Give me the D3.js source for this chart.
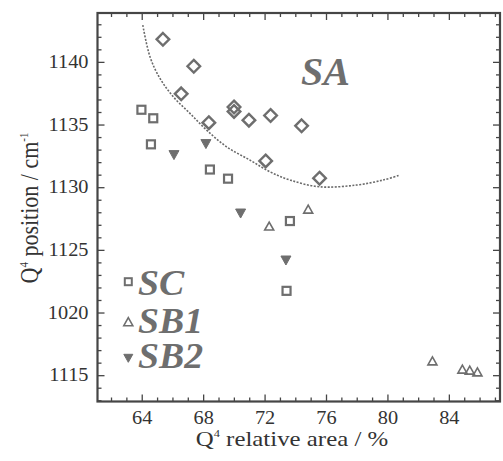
<!DOCTYPE html>
<html>
<head>
<meta charset="utf-8">
<script src="https://cdn.jsdelivr.net/npm/d3@7"></script>
<style>
  html, body { margin: 0; padding: 0; background: #fff; }
  svg text { font-family: "Liberation Serif", "Times New Roman", serif; }
  .sx { transform: scaleX(1.13); transform-box: fill-box; transform-origin: center; }
  .sxr { transform: scaleX(1.13); transform-box: fill-box; transform-origin: right center; }
  .sxl { transform: scaleX(1.08); transform-box: fill-box; transform-origin: left center; }
  .sy { transform: scaleY(1.13); transform-box: fill-box; transform-origin: center; }
</style>
</head>
<body>
<svg id="chart" width="503" height="461"></svg>
<script>
// ---- data ----
const xTicks = [64, 68, 72, 76, 80, 84];
const yTicks = [1115, 1120, 1125, 1130, 1135, 1140];
const yTickLabels = ["1115", "1020", "1125", "1130", "1135", "1140"];

const saX = [65.38, 67.39, 66.57, 68.37, 70.01, 70.01, 70.98, 72.39, 74.41, 72.07, 75.58];
const saY = [1141.8, 1139.65, 1137.45, 1135.15, 1136.4, 1136.05, 1135.35, 1135.72, 1134.9, 1132.1, 1130.72];

const scX = [63.98, 64.75, 64.6, 68.44, 69.62, 73.65, 73.43];
const scY = [1136.18, 1135.5, 1133.42, 1131.41, 1130.68, 1127.3, 1121.73];

const sb1X = [72.3, 74.84, 82.93, 84.88, 85.36, 85.86];
const sb1Y = [1126.9, 1128.25, 1116.14, 1115.48, 1115.4, 1115.26];

const sb2X = [66.1, 68.18, 70.44, 73.39];
const sb2Y = [1132.56, 1133.44, 1127.9, 1124.15];

const fitX = [64.07, 64.54, 65.19, 66.06, 67.14, 68.23, 69.53, 71.05, 72.35, 73.66, 75.6, 77.99, 79.72, 80.82];
const fitY = [1142.93, 1140.4, 1138.68, 1137.21, 1135.89, 1134.55, 1133.22, 1132.16, 1131.23, 1130.57, 1130.03, 1130.17, 1130.57, 1130.97];

const seriesNames = ["SC", "SB1", "SB2"];
const plotLabel = "SA";

// ---- layout ----
const svg = d3.select("#chart");
const L = 97.5, R = 500, T = 13, B = 401.5;
const x = d3.scaleLinear().domain([61.12, 87.33]).range([L, R]);
const y = d3.scaleLinear().domain([1112.9, 1143.9]).range([B, T]);

const axisColor = "#454545";
const markColor = "#6e6e6e";

const minorX = d3.range(62, 88, 1).filter(v => !xTicks.includes(v));
const minorY = d3.range(1113, 1144, 1).filter(v => !yTicks.includes(v));

function styleAxis(g) {
  g.select(".domain").remove();
  g.selectAll("line").attr("stroke", axisColor).attr("stroke-width", 1.3);
}

// bottom
svg.append("g").attr("transform", `translate(0,${B})`)
  .call(d3.axisBottom(x).tickValues(xTicks).tickSize(-7).tickPadding(10).tickFormat(d3.format("d")))
  .call(styleAxis)
  .call(g => g.selectAll("text").attr("fill", "#333").attr("font-size", 18).attr("class", "sx"));
svg.append("g").attr("transform", `translate(0,${B})`)
  .call(d3.axisBottom(x).tickValues(minorX).tickSize(-4).tickFormat(""))
  .call(styleAxis);
// top
svg.append("g").attr("transform", `translate(0,${T})`)
  .call(d3.axisTop(x).tickValues(xTicks).tickSize(-7).tickFormat(""))
  .call(styleAxis);
svg.append("g").attr("transform", `translate(0,${T})`)
  .call(d3.axisTop(x).tickValues(minorX).tickSize(-4).tickFormat(""))
  .call(styleAxis);
// left
svg.append("g").attr("transform", `translate(${L},0)`)
  .call(d3.axisLeft(y).tickValues(yTicks).tickSize(-7).tickPadding(9)
    .tickFormat((d, i) => yTickLabels[yTicks.indexOf(d)]))
  .call(styleAxis)
  .call(g => g.selectAll("text").attr("fill", "#333").attr("font-size", 18).attr("class", "sxr"));
svg.append("g").attr("transform", `translate(${L},0)`)
  .call(d3.axisLeft(y).tickValues(minorY).tickSize(-4).tickFormat(""))
  .call(styleAxis);
// right
svg.append("g").attr("transform", `translate(${R},0)`)
  .call(d3.axisRight(y).tickValues(yTicks).tickSize(-7).tickFormat(""))
  .call(styleAxis);
svg.append("g").attr("transform", `translate(${R},0)`)
  .call(d3.axisRight(y).tickValues(minorY).tickSize(-4).tickFormat(""))
  .call(styleAxis);

// frame
svg.append("rect").attr("x", L).attr("y", T).attr("width", R - L).attr("height", B - T)
  .attr("fill", "none").attr("stroke", axisColor).attr("stroke-width", 2.2);

// fit curve
const fitPts = fitX.map((v, i) => [v, fitY[i]]);
svg.append("path").datum(fitPts)
  .attr("d", d3.line().x(d => x(d[0])).y(d => y(d[1])).curve(d3.curveCatmullRom))
  .attr("fill", "none").attr("stroke", "#6a6a6a").attr("stroke-width", 1.6)
  .attr("stroke-dasharray", "2,1.5");

// markers
function drawSquares(xs, ys, size) {
  svg.append("g").selectAll("rect").data(xs.map((v, i) => [v, ys[i]])).join("rect")
    .attr("x", d => x(d[0]) - size / 2).attr("y", d => y(d[1]) - size / 2)
    .attr("width", size).attr("height", size)
    .attr("fill", "none").attr("stroke", markColor).attr("stroke-width", 2.2);
}
function drawDiamonds(xs, ys, r) {
  svg.append("g").selectAll("path").data(xs.map((v, i) => [v, ys[i]])).join("path")
    .attr("d", d => `M${x(d[0])},${y(d[1]) - r}L${x(d[0]) + r},${y(d[1])}L${x(d[0])},${y(d[1]) + r}L${x(d[0]) - r},${y(d[1])}Z`)
    .attr("fill", "none").attr("stroke", markColor).attr("stroke-width", 2.4);
}
function triPath(cx, cy, w, h, up) {
  const s = up ? 1 : -1;
  return `M${cx},${cy - s * h / 2}L${cx + w / 2},${cy + s * h / 2}L${cx - w / 2},${cy + s * h / 2}Z`;
}
function drawTriUp(xs, ys, w, h) {
  svg.append("g").selectAll("path").data(xs.map((v, i) => [v, ys[i]])).join("path")
    .attr("d", d => triPath(x(d[0]), y(d[1]), w, h, true))
    .attr("fill", "none").attr("stroke", markColor).attr("stroke-width", 1.6);
}
function drawTriDown(xs, ys, w, h) {
  svg.append("g").selectAll("path").data(xs.map((v, i) => [v, ys[i]])).join("path")
    .attr("d", d => triPath(x(d[0]), y(d[1]), w, h, false))
    .attr("fill", markColor).attr("stroke", markColor).attr("stroke-width", 1);
}

drawDiamonds(saX, saY, 6.3);
drawSquares(scX, scY, 8);
drawTriUp(sb1X, sb1Y, 9, 8);
drawTriDown(sb2X, sb2Y, 10, 9);

// SA label
svg.append("text").attr("x", 301).attr("y", 85)
  .attr("font-size", 40).attr("font-weight", "bold").attr("font-style", "italic")
  .attr("fill", markColor).text(plotLabel);

// legend
const legY = [281.7, 321.7, 358.3];
const legBase = [295, 333, 368];
svg.append("rect").attr("x", 128.3 - 3.5).attr("y", legY[0] - 3.5).attr("width", 7).attr("height", 7)
  .attr("fill", "none").attr("stroke", markColor).attr("stroke-width", 2);
svg.append("path").attr("d", triPath(128.3, legY[1], 9, 8, true))
  .attr("fill", "none").attr("stroke", markColor).attr("stroke-width", 1.6);
svg.append("path").attr("d", triPath(128.3, legY[2], 9, 8, false))
  .attr("fill", markColor).attr("stroke", markColor).attr("stroke-width", 1);
seriesNames.forEach((n, i) => {
  svg.append("text").attr("x", 138).attr("y", legBase[i])
    .attr("font-size", 35).attr("font-weight", "bold").attr("font-style", "italic")
    .attr("fill", markColor).attr("class", "sxl").text(n);
});

// axis titles
const xt = svg.append("text").attr("x", 292).attr("y", 446).attr("text-anchor", "middle")
  .attr("font-size", 22).attr("fill", "#333").attr("class", "sx");
xt.append("tspan").text("Q");
xt.append("tspan").attr("font-size", 11).attr("dy", -9).text("4");
xt.append("tspan").attr("dy", 9).text(" relative area / %");

const yg = svg.append("g").attr("transform", "translate(37.5,208) rotate(-90)");
const yt = yg.append("text").attr("x", 0).attr("y", 0).attr("text-anchor", "middle")
  .attr("font-size", 22).attr("fill", "#333").attr("class", "sy");
yt.append("tspan").text("Q");
yt.append("tspan").attr("font-size", 11).attr("dy", -9).text("4");
yt.append("tspan").attr("dy", 9).text(" position / cm");
yt.append("tspan").attr("font-size", 11).attr("dy", -9).text("-1");
</script>
</body>
</html>
